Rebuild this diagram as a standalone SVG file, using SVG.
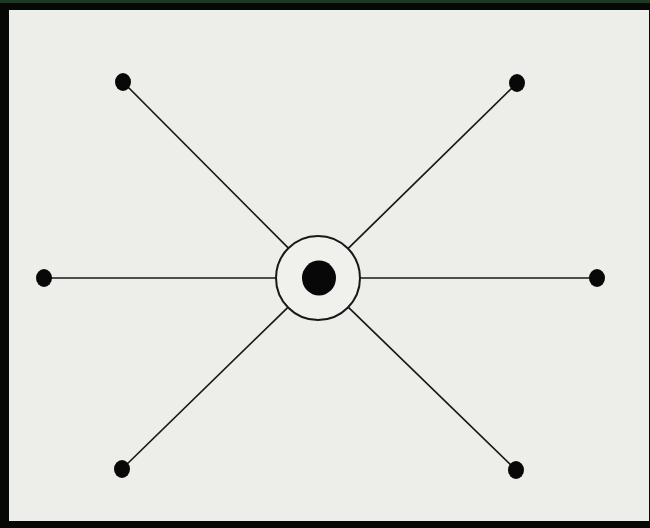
<svg xmlns="http://www.w3.org/2000/svg" width="650" height="528" viewBox="0 0 650 528">
  <style>
    .frame { fill: #060806; }
    .paper { fill: #edede9; }
    .spoke { stroke: #181818; stroke-width: 1.7; fill: none; stroke-linecap: round; }
    .ring { fill: #f0f0ed; stroke: #181818; stroke-width: 2; }
    .dot { fill: #080808; }
  </style>
  <rect class="frame" x="0" y="0" width="650" height="528"/>
  <rect x="0" y="0" width="650" height="3" fill="#1d3a22"/>
  <rect class="paper" x="9" y="10" width="640" height="511"/>

  <g id="connectors">
    <line class="spoke" x1="123" y1="82" x2="288.4" y2="248.2"/>
    <line class="spoke" x1="517" y1="83" x2="348.0" y2="248.6"/>
    <line class="spoke" x1="44" y1="278" x2="276" y2="278"/>
    <line class="spoke" x1="597" y1="278" x2="360" y2="278"/>
    <line class="spoke" x1="122" y1="469" x2="287.9" y2="307.3"/>
    <line class="spoke" x1="516" y1="470" x2="348.2" y2="307.2"/>
  </g>

  <g id="hub">
    <circle class="ring" cx="318" cy="278" r="42"/>
    <ellipse class="dot" cx="319" cy="278" rx="17" ry="17.5"/>
  </g>
  <g id="node-top-left"><ellipse class="dot" cx="123" cy="82" rx="8" ry="9"/></g>
  <g id="node-top-right"><ellipse class="dot" cx="517" cy="83" rx="8" ry="9"/></g>
  <g id="node-left"><ellipse class="dot" cx="44" cy="278" rx="8" ry="9"/></g>
  <g id="node-right"><ellipse class="dot" cx="597" cy="278" rx="8" ry="9"/></g>
  <g id="node-bottom-left"><ellipse class="dot" cx="122" cy="469" rx="8" ry="9"/></g>
  <g id="node-bottom-right"><ellipse class="dot" cx="516" cy="470" rx="8" ry="9"/></g>
</svg>
